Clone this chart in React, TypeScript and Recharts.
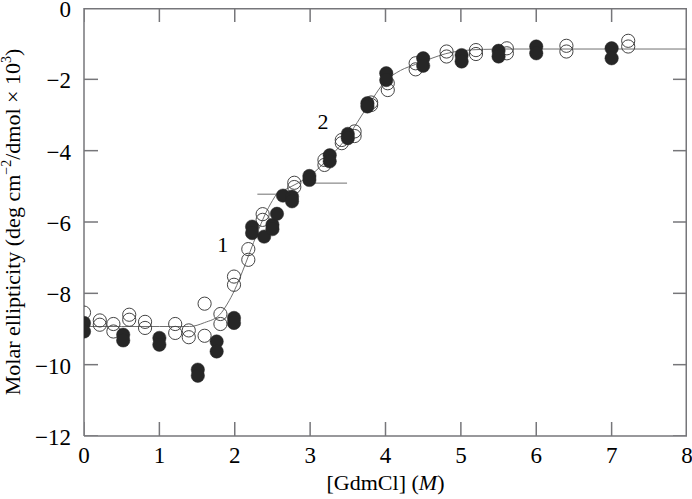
import React from 'react';
import { ComposedChart, XAxis, YAxis, Scatter, Line, ReferenceDot } from 'recharts';

const xTicks = [0, 1, 2, 3, 4, 5, 6, 7, 8];
const yTicks = [-12, -10, -8, -6, -4, -2, 0];

// Open circles
const openX = [0, 0.21, 0.21, 0.39, 0.39, 0.6, 0.6, 0.81, 0.81, 1.21, 1.21, 1.39, 1.39, 1.6, 1.6, 1.81, 1.81, 1.99, 1.99, 2.18, 2.18, 2.37, 2.37, 2.79, 2.79, 3.19, 3.19, 3.42, 3.42, 3.59, 3.59, 3.81, 3.81, 4.03, 4.03, 4.4, 4.4, 4.81, 4.81, 5.2, 5.2, 5.61, 5.61, 6.4, 6.4, 7.22, 7.22];
const openY = [-8.54, -8.76, -8.88, -8.86, -9.07, -8.6, -8.74, -8.8, -8.97, -8.86, -9.11, -9.04, -9.23, -8.29, -9.19, -8.58, -8.86, -7.53, -7.76, -6.76, -7.06, -5.78, -5.94, -4.9, -5.02, -4.26, -4.4, -3.7, -3.79, -3.46, -3.59, -2.65, -2.72, -2.11, -2.3, -1.55, -1.72, -1.22, -1.36, -1.18, -1.29, -1.13, -1.27, -1.06, -1.22, -0.92, -1.08];

// Filled circles
const filledX = [0, 0, 0.52, 0.52, 1.0, 1.0, 1.51, 1.51, 1.76, 1.76, 1.99, 1.99, 2.23, 2.23, 2.39, 2.5, 2.5, 2.56, 2.64, 2.76, 2.76, 2.99, 2.99, 3.26, 3.26, 3.5, 3.5, 3.76, 3.76, 4.01, 4.01, 4.5, 4.5, 5.01, 5.01, 5.5, 5.5, 6.0, 6.0, 7.0, 7.0];
const filledY = [-8.83, -9.07, -9.16, -9.32, -9.25, -9.44, -10.14, -10.31, -9.35, -9.63, -8.69, -8.83, -6.13, -6.31, -6.41, -6.08, -6.2, -5.77, -5.26, -5.29, -5.42, -4.71, -4.82, -4.13, -4.3, -3.53, -3.65, -2.67, -2.76, -1.83, -2.02, -1.41, -1.62, -1.32, -1.5, -1.2, -1.36, -1.08, -1.27, -1.13, -1.41];

// Fitted curve, transition 1
const fit1X = [0, 0.5, 1.0, 1.4, 1.6, 1.8, 1.9, 2.0, 2.1, 2.2, 2.3, 2.4, 2.5, 2.56];
const fit1Y = [-8.93, -8.93, -8.93, -8.93, -8.82, -8.6, -8.3, -7.9, -7.4, -6.85, -6.3, -5.8, -5.4, -5.2];
const base1X = [2.3, 2.56];
const base1Y = [-5.22, -5.22];

// Fitted curve, transition 2
const fit2X = [2.56, 2.8, 3.0, 3.25, 3.5, 3.75, 4.0, 4.2, 4.4, 4.6, 4.8, 5.0, 5.3, 5.6, 8];
const fit2Y = [-5.2, -4.95, -4.7, -4.2, -3.6, -2.8, -2.05, -1.75, -1.58, -1.42, -1.28, -1.2, -1.16, -1.15, -1.15];
const base2X = [3.03, 3.49];
const base2Y = [-4.91, -4.91];

const zip = (xs: number[], ys: number[]) => xs.map((x, i) => ({ x, y: ys[i] }));
const openData = zip(openX, openY);
const filledData = zip(filledX, filledY);
const fit1Data = zip(fit1X, fit1Y);
const fit2Data = zip(fit2X, fit2Y);
const base1Data = zip(base1X, base1Y);
const base2Data = zip(base2X, base2Y);

const X_MIN = 0, X_MAX = 8, Y_MIN = -12, Y_MAX = 0;

// frame (top + right border) and tick anchor points, built from the tick arrays
const frameData = [
  { x: X_MIN, y: Y_MAX },
  { x: X_MAX, y: Y_MAX },
  { x: X_MAX, y: Y_MIN },
];
const bottomTickData = xTicks.map((t) => ({ x: t, y: Y_MIN }));
const topTickData = xTicks.map((t) => ({ x: t, y: Y_MAX }));
const leftTickData = yTicks.map((t) => ({ x: X_MIN, y: t }));
const rightTickData = yTicks.map((t) => ({ x: X_MAX, y: t }));

const FONT = 'Liberation Serif';
const FRAME = 'rgb(118,118,122)';
const CURVE = '#707070';
const TL = 14;
const fmt = (v: number) => String(v).replace('-', '\u2212');

const BottomTick = (p: any) => (
  <text x={p.x} y={p.y + 27} textAnchor="middle" fontFamily={FONT} fontSize={23} fill="#000">
    {fmt(p.payload.value)}
  </text>
);
const LeftTick = (p: any) => (
  <text x={p.x - 13} y={p.y + 9} textAnchor="end" fontFamily={FONT} fontSize={23} fill="#000">
    {fmt(p.payload.value)}
  </text>
);

const OpenShape = (p: any) => (
  <circle cx={p.cx} cy={p.cy} r={6.6} fill="none" stroke="#444" strokeWidth={1} />
);
const FilledShape = (p: any) => (
  <circle cx={p.cx} cy={p.cy} r={6.7} fill="#262626" stroke="#262626" strokeWidth={0.5} />
);
const UpTick = (p: any) => (
  <line x1={p.cx} x2={p.cx} y1={p.cy} y2={p.cy - TL} stroke={FRAME} strokeWidth={1.5} />
);
const DownTick = (p: any) => (
  <line x1={p.cx} x2={p.cx} y1={p.cy} y2={p.cy + TL} stroke={FRAME} strokeWidth={1.5} />
);
const RightwardTick = (p: any) => (
  <line x1={p.cx} x2={p.cx + TL} y1={p.cy} y2={p.cy} stroke={FRAME} strokeWidth={1.5} />
);
const LeftwardTick = (p: any) => (
  <line x1={p.cx} x2={p.cx - TL} y1={p.cy} y2={p.cy} stroke={FRAME} strokeWidth={1.5} />
);

const YLabel = (props: any) => {
  const vb = props.viewBox || { x: 0, y: 8, width: 84, height: 428 };
  const cx = 20;
  const cy = vb.y + vb.height / 2;
  return (
    <text x={cx} y={cy} transform={`rotate(-90, ${cx}, ${cy})`} textAnchor="middle" fontFamily={FONT} fontSize={22} fill="#000">
      <tspan>Molar ellipticity (deg cm</tspan>
      <tspan fontSize={14} dy={-9}>{'\u2212'}2</tspan>
      <tspan dy={9}>/dmol {'\u00d7'} 10</tspan>
      <tspan fontSize={14} dy={-9}>3</tspan>
      <tspan dy={9}>)</tspan>
    </text>
  );
};

const XLabel = (props: any) => {
  const vb = props.viewBox || { x: 84, y: 436, width: 603, height: 63 };
  const cx = vb.x + vb.width / 2;
  return (
    <text x={cx} y={vb.y + 54} textAnchor="middle" fontFamily={FONT} fontSize={22} fill="#000">
      <tspan>[GdmCl] (</tspan>
      <tspan fontStyle="italic">M</tspan>
      <tspan>)</tspan>
    </text>
  );
};

const numLabel = (t: string) => (p: any) => {
  const vb = p.viewBox || {};
  return (
    <text x={vb.cx ?? vb.x} y={vb.cy ?? vb.y} textAnchor="middle" dominantBaseline="central" fontFamily={FONT} fontSize={22} fill="#000">
      {t}
    </text>
  );
};

const ids = { xAxisId: 'b', yAxisId: 'l' } as const;

export default function App() {
  return (
    <div style={{ position: 'absolute', left: 0, top: 0, background: '#fff' }}>
      <ComposedChart width={692} height={499} margin={{ top: 8, right: 5, bottom: 0, left: 0 }}>
        <XAxis xAxisId="b" type="number" dataKey="x" domain={[X_MIN, X_MAX]} ticks={xTicks} orientation="bottom" height={63}
          tickSize={0} tickMargin={0} tickLine={false} stroke={FRAME} strokeWidth={1.5} tick={<BottomTick />} interval={0} allowDataOverflow label={<XLabel />} />
        <YAxis yAxisId="l" type="number" dataKey="y" domain={[Y_MIN, Y_MAX]} ticks={yTicks} orientation="left" width={84}
          tickSize={0} tickMargin={0} tickLine={false} stroke={FRAME} strokeWidth={1.5} tick={<LeftTick />} interval={0} allowDataOverflow label={<YLabel />} />
        <Line {...ids} data={frameData} dataKey="y" type="linear" stroke={FRAME} strokeWidth={3} dot={false} isAnimationActive={false} />
        <Scatter {...ids} data={bottomTickData} dataKey="y" shape={UpTick} isAnimationActive={false} />
        <Scatter {...ids} data={topTickData} dataKey="y" shape={DownTick} isAnimationActive={false} />
        <Scatter {...ids} data={leftTickData} dataKey="y" shape={RightwardTick} isAnimationActive={false} />
        <Scatter {...ids} data={rightTickData} dataKey="y" shape={LeftwardTick} isAnimationActive={false} />
        <Line {...ids} data={fit1Data} dataKey="y" type="monotone" stroke={CURVE} strokeWidth={1} dot={false} isAnimationActive={false} />
        <Line {...ids} data={base1Data} dataKey="y" type="linear" stroke={CURVE} strokeWidth={1} dot={false} isAnimationActive={false} />
        <Line {...ids} data={fit2Data} dataKey="y" type="monotone" stroke={CURVE} strokeWidth={1} dot={false} isAnimationActive={false} />
        <Line {...ids} data={base2Data} dataKey="y" type="linear" stroke={CURVE} strokeWidth={1} dot={false} isAnimationActive={false} />
        <Scatter {...ids} data={openData} dataKey="y" shape={OpenShape} isAnimationActive={false} />
        <Scatter {...ids} data={filledData} dataKey="y" shape={FilledShape} isAnimationActive={false} />
        <ReferenceDot {...ids} x={1.84} y={-6.64} r={0} fill="none" stroke="none" label={numLabel('1')} />
        <ReferenceDot {...ids} x={3.17} y={-3.18} r={0} fill="none" stroke="none" label={numLabel('2')} />
      </ComposedChart>
    </div>
  );
}
